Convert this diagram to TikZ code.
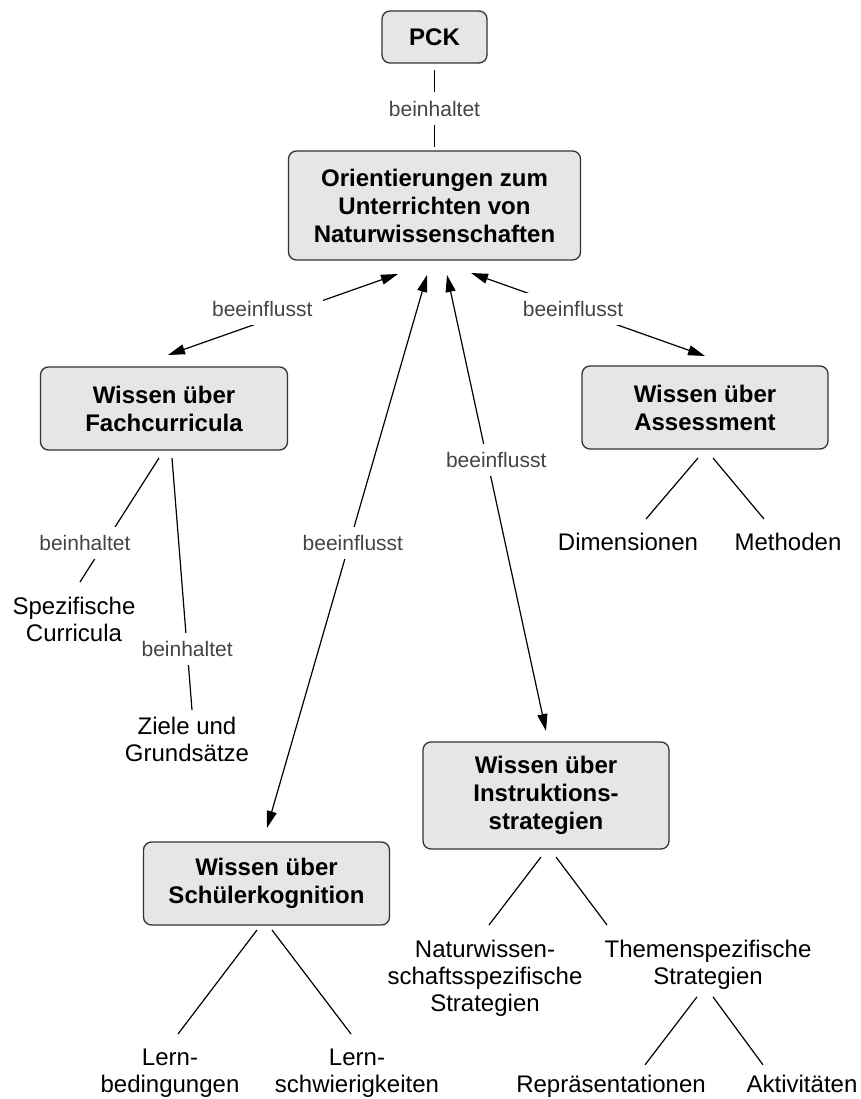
\documentclass[tikz,border=0pt]{standalone}
\usepackage{fontspec}
\setmainfont{Liberation Sans}
\usetikzlibrary{positioning,arrows.meta}
\definecolor{boxfill}{HTML}{E6E6E6}
\definecolor{boxline}{HTML}{333333}
\definecolor{lblgray}{HTML}{444444}

\begin{document}
\begin{tikzpicture}[x=1pt,y=1pt,
  main/.style = {draw=boxline, fill=boxfill, rectangle, rounded corners=8pt, line width=1.3pt, outer sep=0pt, align=center, font=\bfseries\fontsize{24}{28}\selectfont, minimum width=246pt, minimum height=83pt},
  leaf/.style = {inner sep=0pt, outer sep=0pt, align=center, font=\fontsize{24}{27}\selectfont},
  lbl/.style = {fill=white, text=lblgray, inner xsep=10pt, inner ysep=8.5pt, font=\fontsize{21}{24}\selectfont},
  link/.style = {line width=1.2pt},
  infl/.style = {line width=1.2pt, >={Triangle[length=17pt,width=10pt]}, <->}]
\useasboundingbox (0,0) rectangle (861,-1099);
\node[main, minimum width=105pt, minimum height=52pt] (pck) at (434.5,-37) {PCK};
\node[main, minimum width=292pt, minimum height=109pt] (orient) [below=88pt of pck] {Orientierungen zum\\Unterrichten von\\Naturwissenschaften};
\node[main, minimum width=247pt] (fach) [below left=107pt and 1pt of orient] {Wissen über\\Fachcurricula};
\node[main] (assess) [below right=106pt and 1.5pt of orient] {Wissen über\\Assessment};
\node[main, minimum height=107pt] (instr) [below left=293pt and -87pt of assess] {Wissen über\\Instruktions-\\strategien};
\node[main] (schueler) [below right=392pt and -144pt of fach] {Wissen über\\Schülerkognition};
\node[leaf] (spez) [below=147pt of fach, xshift=-90pt] {Spezifische\\Curricula};
\node[leaf] (ziele) [below=267pt of fach, xshift=23pt] {Ziele und\\Grundsätze};
\node[leaf] (dim) [below=84pt of assess, xshift=-77pt] {Dimensionen};
\node[leaf] (meth) [below=84pt of assess, xshift=83pt] {Methoden};
\node[leaf] (natur) [below=91pt of instr, xshift=-61pt] {Naturwissen-\\schaftsspezifische\\Strategien};
\node[leaf] (themen) [below=91pt of instr, xshift=162pt] {Themenspezifische\\Strategien};
\node[leaf] (lernb) [below=124pt of schueler, xshift=-96.5pt] {Lern-\\bedingungen};
\node[leaf] (lerns) [below=124pt of schueler, xshift=90.5pt] {Lern-\\schwierigkeiten};
\node[leaf] (repr) [below=85.5pt of themen, xshift=-97pt] {Repräsentationen};
\node[leaf] (aktiv) [below=85.5pt of themen, xshift=94pt] {Aktivitäten};
\draw[link] ([yshift=-7pt]pck.south) -- node[lbl] {beinhaltet} ([yshift=4pt]orient.north);
\draw[infl] ([xshift=4pt,yshift=12pt]fach.north) -- node[lbl, pos=0.41, yshift=13pt] {beeinflusst} ([xshift=-36.5pt,yshift=-14pt]orient.south);
\draw[infl] ([xshift=36.5pt,yshift=-13pt]orient.south) -- node[lbl, pos=0.436] {beeinflusst} ([yshift=10pt]assess.north);
\draw[infl] ([xshift=-7.5pt,yshift=-15pt]orient.south) -- node[lbl, pos=0.485, xshift=3.5pt] {beeinflusst} ([xshift=0.5pt,yshift=14pt]schueler.north);
\draw[infl] ([xshift=12.5pt,yshift=-15pt]orient.south) -- node[lbl, pos=0.406, xshift=9pt] {beeinflusst} ([yshift=11pt]instr.north);
\draw[link] ([xshift=-5pt,yshift=-8pt]fach.south) -- node[lbl, pos=0.685, xshift=-20pt] {beinhaltet} ([xshift=6pt,yshift=15pt]spez.north);
\draw[link] ([xshift=8pt,yshift=-8pt]fach.south) -- node[lbl, pos=0.758] {beinhaltet} ([xshift=5pt,yshift=7pt]ziele.north);
\draw[link] ([xshift=-7pt,yshift=-9pt]assess.south) -- ([xshift=18pt,yshift=14pt]dim.north);
\draw[link] ([xshift=8pt,yshift=-9pt]assess.south) -- ([xshift=-24pt,yshift=14pt]meth.north);
\draw[link] ([xshift=-5pt,yshift=-8pt]instr.south) -- ([xshift=4pt,yshift=15pt]natur.north);
\draw[link] ([xshift=10pt,yshift=-8pt]instr.south) -- ([xshift=-101pt,yshift=15pt]themen.north);
\draw[link] ([xshift=-9.5pt,yshift=-5pt]schueler.south) -- ([xshift=8pt,yshift=15pt]lernb.north);
\draw[link] ([xshift=5.5pt,yshift=-5pt]schueler.south) -- ([xshift=-6pt,yshift=15pt]lerns.north);
\draw[link] ([xshift=-11pt,yshift=-7.5pt]themen.south) -- ([xshift=34pt,yshift=10pt]repr.north);
\draw[link] ([xshift=5pt,yshift=-7.5pt]themen.south) -- ([xshift=-39pt,yshift=10pt]aktiv.north);
\end{tikzpicture}
\end{document}
